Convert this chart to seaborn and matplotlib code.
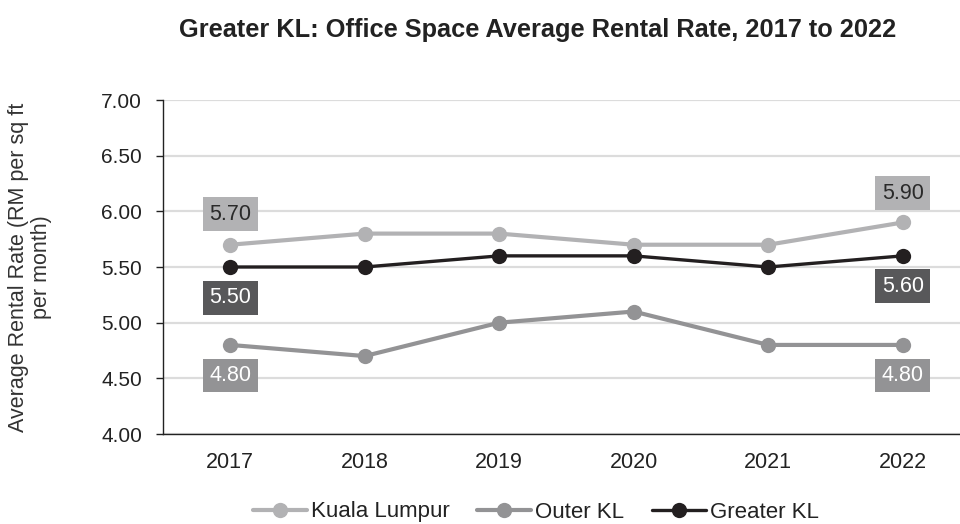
import matplotlib
matplotlib.use("Agg")
import matplotlib.pyplot as plt
import seaborn as sns
import pandas as pd

years = ["2017", "2018", "2019", "2020", "2021", "2022"]
kuala_lumpur = [5.70, 5.80, 5.80, 5.70, 5.70, 5.90]
outer_kl = [4.80, 4.70, 5.00, 5.10, 4.80, 4.80]
greater_kl = [5.50, 5.50, 5.60, 5.60, 5.50, 5.60]
series_names = ["Kuala Lumpur", "Outer KL", "Greater KL"]
yticks = [4.00, 4.50, 5.00, 5.50, 6.00, 6.50, 7.00]

colors = {"Kuala Lumpur": "#b2b2b4", "Outer KL": "#939395", "Greater KL": "#231f20"}
label_bg = {"Kuala Lumpur": "#b2b2b4", "Outer KL": "#939395", "Greater KL": "#58585a"}
label_fg = {"Kuala Lumpur": "#2a2a2a", "Outer KL": "white", "Greater KL": "white"}

df = pd.DataFrame({
    "Year": years * 3,
    "Rate": kuala_lumpur + outer_kl + greater_kl,
    "Series": [s for s in series_names for _ in years],
})

sns.set_style("white")
plt.rcParams["font.family"] = ["Liberation Sans", "DejaVu Sans"]

fig = plt.figure(figsize=(9.6, 5.24), dpi=100)
ax = fig.add_axes([163/960, 1-434/524, (970-163)/960, (434-100)/524])

for s, lw in zip(series_names, [3.0, 3.0, 2.4]):
    sub = df[df.Series == s]
    sns.lineplot(data=sub, x="Year", y="Rate", ax=ax, color=colors[s], lw=lw,
                 marker="o", markersize=11, markeredgewidth=0, label=s, sort=False)

ax.set_ylim(4.0, 7.0)
ax.set_xlim(-0.5, 5.5)
ax.set_yticks(yticks)
ax.set_yticklabels([f"{v:.2f}" for v in yticks], fontsize=15, color="#222222")
ax.tick_params(axis="x", length=0, labelsize=15.5, labelcolor="#222222", pad=13)
ax.tick_params(axis="y", length=5, width=1, color="#222222", pad=10, left=True)
ax.yaxis.grid(True, color="#dcdcdc", lw=1.6)
ax.set_axisbelow(True)
for sp in ["top", "right"]:
    ax.spines[sp].set_visible(False)
for sp in ["left", "bottom"]:
    ax.spines[sp].set_color("#222222")
    ax.spines[sp].set_linewidth(1)
ax.set_xlabel("")
ax.set_ylabel("Average Rental Rate (RM per sq ft\nper month)", fontsize=15.5,
              color="#333333", linespacing=1.1, va="center")
ax.yaxis.set_label_coords((30-163)/807, 0.5)

series_vals = {"Kuala Lumpur": kuala_lumpur, "Outer KL": outer_kl, "Greater KL": greater_kl}
offsets = {("Kuala Lumpur", 0): 22, ("Greater KL", 0): -22, ("Outer KL", 0): -22,
           ("Kuala Lumpur", 5): 21, ("Greater KL", 5): -22, ("Outer KL", 5): -22}
for (s, i), dy in offsets.items():
    v = series_vals[s][i]
    ax.annotate(f"{v:.2f}", (i, v), xytext=(0, dy), textcoords="offset points",
                ha="center", va="center", fontsize=15.5, color=label_fg[s],
                bbox=dict(boxstyle="square,pad=0.3", fc=label_bg[s], ec="none"))

if ax.legend_:
    ax.legend_.remove()
handles, labels = ax.get_legend_handles_labels()
fig.legend(handles, labels, loc="center", bbox_to_anchor=(536/960, 1-512/524), ncol=3,
           frameon=False, fontsize=16, handlelength=2.43, handletextpad=0.18,
           columnspacing=1.26, labelcolor="#222222")

fig.suptitle("Greater KL: Office Space Average Rental Rate, 2017 to 2022",
             x=538/960, y=1-30/524, va="center", fontsize=18.3, fontweight="bold",
             color="#222222")

fig.savefig("out.png", dpi=100)
